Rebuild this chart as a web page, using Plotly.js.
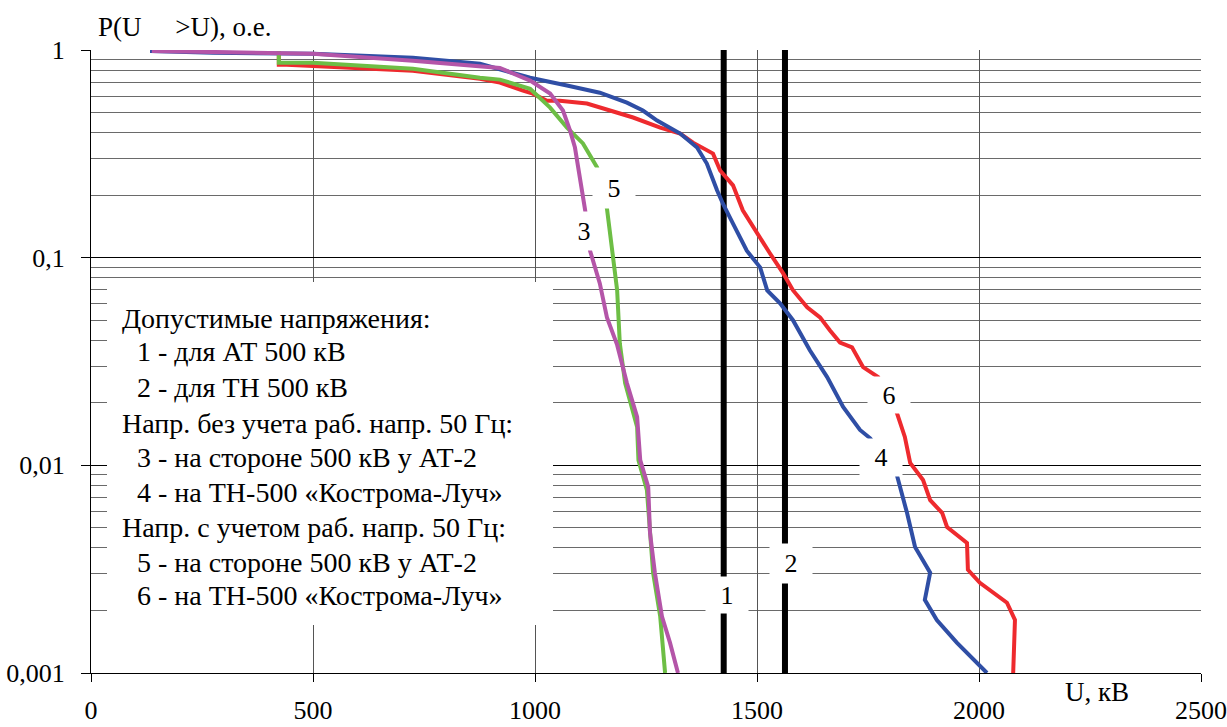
<!DOCTYPE html>
<html>
<head>
<meta charset="utf-8">
<script src="https://cdn.plot.ly/plotly-3.0.1.min.js"></script>
<style>html,body{margin:0;padding:0;background:#fff;}#chart{width:1227px;height:727px;}</style>
</head>
<body>
<div id="chart"></div>
<script>
// Curve 3 (magenta): без учета раб. напр., сторона 500 кВ у АТ-2
const u3 = [137, 500, 725, 876, 921, 989, 1034, 1063, 1079, 1090, 1102, 1113, 1124, 1146, 1162, 1185, 1207, 1230, 1237, 1255, 1259, 1270, 1286, 1304, 1322];
const p3 = [0.99, 0.96, 0.888, 0.84, 0.82, 0.712, 0.617, 0.511, 0.409, 0.339, 0.235, 0.169, 0.108, 0.0752, 0.0516, 0.038, 0.0249, 0.0171, 0.0106, 0.00787, 0.00473, 0.00304, 0.00187, 0.0014, 0.001];
// Curve 4 (blue): без учета, ТН-500 «Кострома-Луч»
const u4 = [133, 275, 500, 725, 876, 989, 1072, 1146, 1207, 1243, 1275, 1327, 1365, 1387, 1410, 1423, 1446, 1477, 1507, 1523, 1552, 1581, 1619, 1658, 1694, 1732, 1755, 1815, 1838, 1856, 1890, 1878, 1905, 1950, 2018];
const p4 = [0.99, 0.97, 0.96, 0.918, 0.859, 0.735, 0.674, 0.623, 0.558, 0.511, 0.457, 0.396, 0.339, 0.284, 0.211, 0.1824, 0.146, 0.108, 0.0898, 0.0696, 0.0603, 0.05, 0.0358, 0.0266, 0.0191, 0.0148, 0.0135, 0.00898, 0.00589, 0.00404, 0.00304, 0.00225, 0.0018, 0.0014, 0.001];
// Curve 5 (green): с учетом раб. напр., сторона 500 кВ у АТ-2
const u5 = [423, 423, 500, 613, 725, 876, 921, 989, 1034, 1072, 1108, 1140, 1162, 1169, 1176, 1185, 1191, 1203, 1230, 1233, 1252, 1259, 1266, 1282, 1293];
const p5 = [0.99, 0.869, 0.869, 0.84, 0.813, 0.735, 0.72, 0.651, 0.528, 0.423, 0.355, 0.272, 0.1726, 0.131, 0.1, 0.0697, 0.0387, 0.0249, 0.0153, 0.0106, 0.0076, 0.00473, 0.00304, 0.00187, 0.001];
// Curve 6 (red): с учетом, ТН-500 «Кострома-Луч»
const u6 = [423, 423, 441, 577, 725, 876, 921, 973, 995, 1027, 1056, 1117, 1169, 1221, 1282, 1327, 1356, 1401, 1417, 1446, 1468, 1500, 1529, 1559, 1581, 1613, 1642, 1664, 1687, 1714, 1739, 1773, 1815, 1833, 1845, 1874, 1890, 1917, 1928, 1973, 1975, 2002, 2063, 2081, 2077, 2077];
const p6 = [0.99, 0.85, 0.85, 0.822, 0.795, 0.727, 0.697, 0.637, 0.616, 0.57, 0.57, 0.552, 0.511, 0.473, 0.423, 0.396, 0.358, 0.317, 0.263, 0.223, 0.169, 0.131, 0.105, 0.084, 0.0697, 0.0577, 0.0516, 0.0447, 0.039, 0.037, 0.0297, 0.0266, 0.0179, 0.0137, 0.01026, 0.0085, 0.0068, 0.0059, 0.00505, 0.00423, 0.00314, 0.00272, 0.00218, 0.0018, 0.00101, 0.001];
// Допустимые напряжения (1 - АТ, 2 - ТН)
const limitU = [1425, 1563];
const limitP = [1, 0.001];

const yTickVals = [0.001, 0.01, 0.1, 1];
const yTickText = ['0,001', '0,01', '0,1', '1'];
const xTickVals = [0, 500, 1000, 1500, 2000, 2500];

const legendLines = [
  'Допустимые напряжения:',
  '1 - для АТ 500 кВ',
  '2 - для ТН 500 кВ',
  'Напр. без учета раб. напр. 50 Гц:',
  '3 - на стороне 500 кВ у АТ-2',
  '4 - на ТН-500 «Кострома-Луч»',
  'Напр. с учетом раб. напр. 50 Гц:',
  '5 - на стороне 500 кВ у АТ-2',
  '6 - на ТН-500 «Кострома-Луч»'
];
const legendIndent = [false, true, true, false, true, true, false, true, true];

const FONT = '"Liberation Serif", "Times New Roman", Times, serif';
const L = 91, R = 1201, T = 50, B = 673;
const PX = px => (px - L) / (R - L);
const PY = py => (B - py) / (B - T);

const traces = [];
limitU.forEach(u => traces.push({x: [u, u], y: limitP, mode: 'lines', line: {color: '#000', width: 6}, hoverinfo: 'skip'}));
traces.push({x: u6, y: p6, mode: 'lines', line: {color: '#EE2A2E', width: 4}});
traces.push({x: u4, y: p4, mode: 'lines', line: {color: '#2F4EA5', width: 4}});
traces.push({x: u5, y: p5, mode: 'lines', line: {color: '#6DBE45', width: 4}});
traces.push({x: u3, y: p3, mode: 'lines', line: {color: '#B455A8', width: 4}});

const ann = [];
function lbl(t, cx, cy, w, h) {
  ann.push({xref: 'paper', yref: 'paper', x: PX(cx), y: PY(cy), text: t, showarrow: false,
    xanchor: 'center', yanchor: 'middle', width: w, height: h, bgcolor: '#fff', borderpad: 0,
    font: {family: FONT, size: 26, color: '#000'}});
}
lbl('5', 614, 188, 42, 40);
lbl('3', 584, 231, 36, 38);
lbl('6', 889, 395, 42, 36);
lbl('4', 881, 457, 42, 37);
lbl('2', 791, 563, 42, 39);
lbl('1', 727, 595, 42, 36);

const lineY = [318, 352, 387, 423, 457, 492, 527, 562, 595];
legendLines.forEach((t, i) => {
  ann.push({xref: 'paper', yref: 'paper', x: PX(legendIndent[i] ? 135 : 120), y: PY(lineY[i]), text: t,
    showarrow: false, xanchor: 'left', yanchor: 'middle', font: {family: FONT, size: 28, color: '#000'}});
});
ann.push({xref: 'paper', yref: 'paper', x: PX(96), y: PY(27), text: 'P(U\u00a0\u00a0\u00a0\u00a0\u00a0>U), o.e.', showarrow: false,
  xanchor: 'left', yanchor: 'middle', font: {family: FONT, size: 27, color: '#000'}});
ann.push({xref: 'paper', yref: 'paper', x: PX(1097), y: PY(692), text: 'U, кВ', showarrow: false,
  xanchor: 'center', yanchor: 'middle', font: {family: FONT, size: 27, color: '#000'}});

const layout = {
  width: 1227, height: 727,
  margin: {l: L, r: 1227 - R, t: T, b: 727 - B, pad: 0},
  paper_bgcolor: '#fff', plot_bgcolor: '#fff',
  showlegend: false,
  font: {family: FONT, size: 26, color: '#000'},
  xaxis: {
    range: [0, 2500], tickmode: 'array', tickvals: xTickVals,
    showgrid: true, gridcolor: '#555', gridwidth: 1,
    showline: true, linecolor: '#000', linewidth: 1,
    ticks: 'outside', ticklen: 8, tickcolor: '#000', ticklabelstandoff: 6,
    zeroline: false, tickfont: {family: FONT, size: 26, color: '#000'}
  },
  yaxis: {
    type: 'log', range: [-3, 0], tickmode: 'array', tickvals: yTickVals, ticktext: yTickText,
    showgrid: true, gridcolor: '#000', gridwidth: 1,
    minor: {dtick: 'D1', showgrid: true, gridcolor: '#6a6a6a', gridwidth: 1, ticks: ''},
    showline: true, linecolor: '#000', linewidth: 1,
    ticks: 'outside', ticklen: 9, tickcolor: '#000', ticklabelstandoff: 11,
    zeroline: false, tickfont: {family: FONT, size: 26, color: '#000'}
  },
  shapes: [{type: 'rect', xref: 'paper', yref: 'paper', x0: PX(107), x1: PX(553), y0: PY(625), y1: PY(282),
    fillcolor: '#fff', line: {width: 0}, layer: 'above'}],
  annotations: ann
};

Plotly.newPlot('chart', traces, layout, {staticPlot: true, displayModeBar: false});
</script>
</body>
</html>
